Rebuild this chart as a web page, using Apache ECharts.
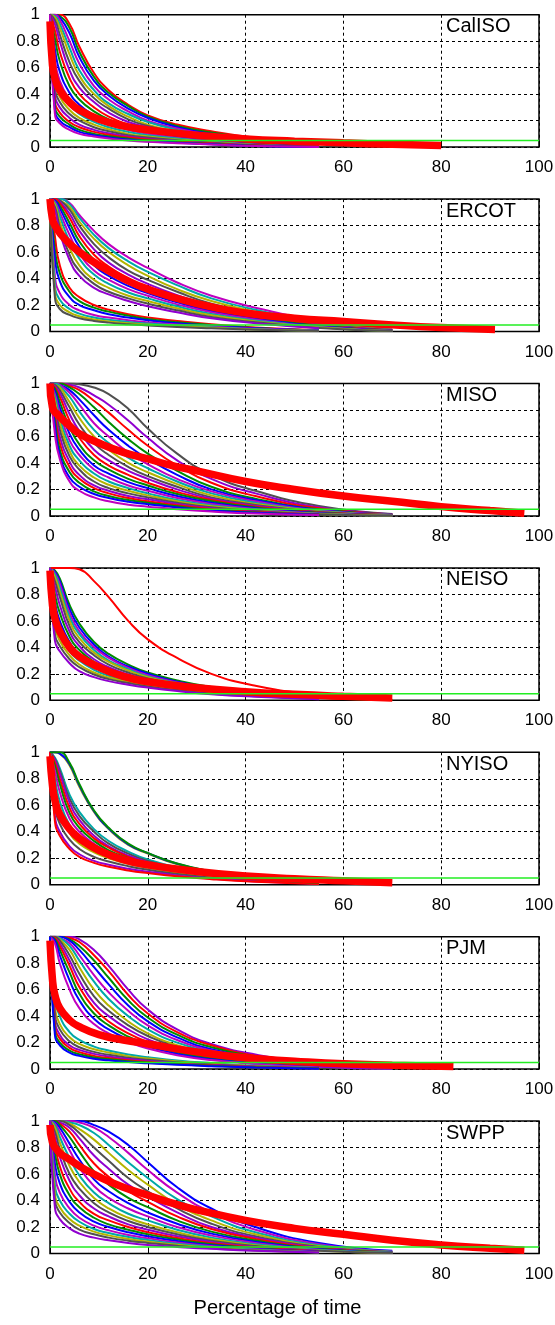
<!DOCTYPE html>
<html>
<head>
<meta charset="utf-8">
<script src="https://cdn.jsdelivr.net/npm/echarts@6/dist/echarts.min.js"></script>
<style>
  html, body { margin: 0; padding: 0; background: #fff; }
  #chart { width: 555px; height: 1325px; }
</style>
</head>
<body>
<div id="chart"></div>
<script>
// percentage of time at which every thin curve is sampled
var pctGrid = [0, 1, 2, 4, 6, 9, 12, 16, 20, 26, 33, 42, 55, 70];

var panelNames = ["CalISO", "ERCOT", "MISO", "NEISO", "NYISO", "PJM", "SWPP"];
var thresholdY = 0.05;

// CalISO
var calisoCurves = [
  [1,1,1,0.93,0.76,0.56,0.43,0.32,0.24,0.17,0.12,0.07,0.02],
  [1,1,0.99,0.9,0.72,0.53,0.41,0.31,0.23,0.16,0.11,0.065,0.02],
  [1,1,0.98,0.86,0.68,0.5,0.39,0.29,0.22,0.15,0.1,0.06,0.015],
  [1,1,0.96,0.8,0.63,0.46,0.36,0.27,0.2,0.14,0.09,0.05,0.012],
  [1,0.99,0.93,0.75,0.58,0.43,0.33,0.25,0.19,0.13,0.085,0.045,0.01],
  [1,0.98,0.9,0.7,0.54,0.4,0.31,0.23,0.17,0.12,0.08,0.04,0.01],
  [1,0.96,0.85,0.64,0.5,0.37,0.29,0.21,0.16,0.11,0.07,0.035,0.008],
  [1,0.93,0.8,0.58,0.45,0.34,0.26,0.19,0.15,0.1,0.065,0.03,0.006],
  [1,0.88,0.72,0.52,0.4,0.3,0.23,0.17,0.13,0.09,0.06,0.03,0.005],
  [1,0.82,0.65,0.46,0.36,0.27,0.21,0.16,0.12,0.085,0.055,0.025,0.005],
  [1,0.74,0.57,0.41,0.32,0.24,0.19,0.14,0.11,0.08,0.05,0.022,0.004],
  [1,0.66,0.5,0.36,0.28,0.21,0.17,0.13,0.1,0.07,0.045,0.02,0.003],
  [1,0.58,0.44,0.32,0.25,0.19,0.15,0.115,0.09,0.065,0.04,0.018,0.003],
  [1,0.5,0.38,0.28,0.22,0.17,0.135,0.1,0.08,0.058,0.036,0.016,0.002],
  [1,0.45,0.34,0.25,0.2,0.15,0.12,0.09,0.072,0.052,0.033,0.015,0.002],
  [1,0.4,0.3,0.22,0.17,0.13,0.105,0.08,0.064,0.047,0.03,0.013,0.002],
  [1,0.35,0.26,0.19,0.15,0.115,0.093,0.072,0.057,0.042,0.027,0.012,0.002],
  [1,0.31,0.23,0.17,0.13,0.1,0.082,0.064,0.051,0.037,0.024,0.01,0.001],
  [1,0.28,0.2,0.15,0.115,0.09,0.073,0.057,0.045,0.033,0.021,0.009,0.001],
  [1,0.25,0.18,0.13,0.1,0.08,0.065,0.05,0.04,0.03,0.02,0.008,0.001]
];
var calisoMeanX = [0,0.5,1,2,4,6,10,15,20,30,40,50,60,70,80];
var calisoMeanY = [0.95,0.62,0.52,0.43,0.34,0.28,0.21,0.16,0.13,0.09,0.062,0.045,0.032,0.021,0.012];

// ERCOT
var ercotCurves = [
  [1,1,1,0.97,0.88,0.76,0.66,0.56,0.48,0.37,0.27,0.18,0.08,0.015],
  [1,1,1,0.96,0.86,0.73,0.63,0.53,0.45,0.35,0.25,0.165,0.072,0.013],
  [1,1,0.99,0.94,0.83,0.7,0.6,0.5,0.42,0.32,0.23,0.15,0.065,0.011],
  [1,1,0.99,0.92,0.8,0.66,0.56,0.46,0.39,0.3,0.21,0.14,0.058,0.01],
  [1,1,0.98,0.89,0.76,0.62,0.52,0.43,0.36,0.275,0.195,0.125,0.052,0.009],
  [1,1,0.97,0.86,0.72,0.58,0.49,0.4,0.33,0.25,0.18,0.115,0.047,0.008],
  [1,0.99,0.95,0.82,0.68,0.54,0.45,0.37,0.31,0.235,0.165,0.105,0.043,0.007],
  [1,0.99,0.93,0.78,0.64,0.5,0.42,0.345,0.29,0.22,0.155,0.097,0.04,0.006],
  [1,0.98,0.9,0.73,0.59,0.46,0.39,0.32,0.27,0.205,0.145,0.09,0.036,0.005],
  [1,0.97,0.87,0.68,0.55,0.43,0.36,0.295,0.25,0.19,0.133,0.083,0.033,0.004],
  [1,0.96,0.83,0.63,0.5,0.39,0.33,0.27,0.23,0.175,0.122,0.076,0.03,0.003],
  [1,0.94,0.79,0.58,0.46,0.36,0.3,0.25,0.21,0.16,0.11,0.07,0.027,0.003],
  [1,0.92,0.75,0.54,0.42,0.33,0.28,0.23,0.19,0.145,0.1,0.063,0.024],
  [1,0.72,0.5,0.33,0.26,0.2,0.165,0.13,0.105,0.08,0.055,0.03,0.01],
  [1,0.62,0.44,0.3,0.23,0.18,0.15,0.12,0.095,0.07,0.05,0.027,0.008],
  [1,0.55,0.38,0.26,0.2,0.16,0.13,0.105,0.085,0.062,0.044,0.024,0.007],
  [1,0.42,0.29,0.2,0.16,0.125,0.105,0.085,0.07,0.052,0.037,0.02,0.006],
  [1,0.35,0.24,0.17,0.135,0.105,0.088,0.072,0.06,0.045,0.032,0.017,0.005],
  [1,0.3,0.2,0.145,0.115,0.09,0.076,0.062,0.052,0.039,0.028,0.015,0.004],
  [1,0.26,0.17,0.125,0.1,0.08,0.067,0.055,0.046,0.034,0.024,0.013,0.003]
];
var ercotMeanX = [0,0.5,1,3,6,10,15,20,30,40,50,60,70,80,91];
var ercotMeanY = [1,0.85,0.8,0.7,0.6,0.5,0.4,0.32,0.21,0.14,0.1,0.075,0.05,0.03,0.015];

// MISO
var misoCurves = [
  [1,1,1,1,0.995,0.97,0.92,0.81,0.66,0.47,0.31,0.19,0.075,0.015],
  [1,1,1,0.99,0.97,0.91,0.84,0.72,0.59,0.42,0.28,0.17,0.065,0.013],
  [1,1,1,0.98,0.95,0.87,0.78,0.65,0.53,0.38,0.25,0.15,0.057,0.011],
  [1,1,1,0.97,0.92,0.82,0.71,0.58,0.47,0.34,0.22,0.13,0.05,0.01],
  [1,1,0.99,0.95,0.88,0.76,0.65,0.53,0.43,0.31,0.2,0.12,0.045,0.009],
  [1,1,0.99,0.93,0.84,0.7,0.6,0.48,0.39,0.28,0.185,0.11,0.04,0.008],
  [1,1,0.98,0.9,0.79,0.65,0.55,0.44,0.36,0.26,0.17,0.1,0.037,0.007],
  [1,0.99,0.97,0.86,0.74,0.6,0.5,0.4,0.33,0.24,0.155,0.09,0.034,0.006],
  [1,0.99,0.95,0.82,0.69,0.55,0.46,0.37,0.3,0.22,0.14,0.083,0.03,0.005],
  [1,0.98,0.93,0.77,0.64,0.5,0.42,0.34,0.28,0.2,0.13,0.076,0.028,0.005],
  [1,0.97,0.9,0.72,0.59,0.46,0.38,0.31,0.25,0.18,0.12,0.07,0.025,0.004],
  [1,0.96,0.86,0.67,0.54,0.42,0.35,0.28,0.23,0.165,0.11,0.064,0.023,0.004],
  [1,0.94,0.82,0.62,0.5,0.38,0.32,0.255,0.21,0.15,0.1,0.058,0.02,0.003],
  [1,0.92,0.78,0.57,0.46,0.35,0.29,0.23,0.19,0.135,0.09,0.052,0.018,0.003],
  [1,0.9,0.74,0.53,0.42,0.32,0.26,0.21,0.17,0.12,0.08,0.046,0.016,0.002],
  [1,0.87,0.7,0.49,0.38,0.29,0.235,0.19,0.155,0.11,0.072,0.041,0.014,0.002],
  [1,0.84,0.65,0.45,0.35,0.26,0.21,0.17,0.14,0.1,0.065,0.037,0.012,0.002],
  [1,0.8,0.6,0.41,0.31,0.23,0.19,0.15,0.125,0.09,0.058,0.033,0.011],
  [1,0.76,0.55,0.37,0.28,0.21,0.17,0.135,0.11,0.08,0.052,0.029,0.01],
  [1,0.72,0.5,0.33,0.25,0.185,0.15,0.12,0.1,0.072,0.046,0.026,0.009],
  [1,0.68,0.46,0.29,0.22,0.165,0.135,0.107,0.088,0.064,0.041,0.023,0.008],
  [1,0.62,0.43,0.26,0.19,0.14,0.11,0.085,0.07,0.05,0.033,0.018,0.006]
];
var misoMeanX = [0,0.5,2,4,6,10,15,20,25,30,40,50,60,70,80,90,97];
var misoMeanY = [1,0.82,0.75,0.68,0.62,0.55,0.48,0.43,0.38,0.34,0.26,0.2,0.15,0.11,0.07,0.04,0.02];

// NEISO (the eighth curve is the lone slow outlier)
var neisoCurves = [
  [1,0.98,0.92,0.72,0.58,0.44,0.35,0.27,0.21,0.15,0.1,0.06,0.02,0.003],
  [1,0.97,0.9,0.69,0.55,0.42,0.33,0.255,0.2,0.14,0.095,0.055,0.018],
  [1,0.96,0.88,0.66,0.52,0.4,0.32,0.245,0.19,0.135,0.09,0.052,0.017],
  [1,0.95,0.85,0.63,0.5,0.38,0.3,0.235,0.18,0.13,0.085,0.05,0.016],
  [1,0.93,0.82,0.6,0.47,0.36,0.29,0.225,0.175,0.125,0.082,0.047,0.015],
  [1,0.9,0.78,0.56,0.44,0.34,0.27,0.21,0.165,0.12,0.078,0.045,0.014],
  [1,0.86,0.72,0.52,0.41,0.31,0.25,0.195,0.155,0.112,0.074,0.042,0.013],
  [1,1,1,1,0.99,0.9,0.78,0.6,0.46,0.32,0.2,0.11,0.04,0.005],
  [1,0.8,0.66,0.48,0.38,0.29,0.235,0.185,0.145,0.105,0.07,0.04,0.012],
  [1,0.74,0.6,0.44,0.35,0.27,0.22,0.17,0.135,0.1,0.066,0.038,0.012],
  [1,0.68,0.55,0.4,0.32,0.25,0.2,0.16,0.127,0.094,0.062,0.036,0.011],
  [1,0.62,0.5,0.37,0.3,0.23,0.186,0.15,0.12,0.088,0.058,0.034,0.01],
  [1,0.56,0.45,0.34,0.27,0.21,0.172,0.14,0.112,0.082,0.054,0.032,0.01],
  [1,0.5,0.41,0.31,0.25,0.195,0.16,0.13,0.105,0.077,0.05,0.03,0.009],
  [1,0.45,0.37,0.28,0.22,0.175,0.145,0.118,0.096,0.07,0.046,0.027,0.008]
];
var neisoMeanX = [0,0.5,1,2,4,6,10,15,20,30,40,50,60,70];
var neisoMeanY = [0.98,0.72,0.62,0.52,0.4,0.33,0.25,0.18,0.14,0.095,0.065,0.045,0.03,0.018];

// NYISO (curves 2, 7 and 14 are the three slow outliers)
var nyisoCurves = [
  [1,0.96,0.88,0.68,0.55,0.42,0.33,0.25,0.19,0.13,0.085,0.045,0.012],
  [1,1,0.99,0.9,0.74,0.55,0.42,0.3,0.235,0.155,0.098,0.048,0.011],
  [1,0.95,0.86,0.65,0.52,0.4,0.31,0.235,0.18,0.125,0.08,0.043,0.011],
  [1,0.94,0.84,0.62,0.49,0.37,0.29,0.22,0.17,0.12,0.077,0.041,0.011],
  [1,0.92,0.8,0.58,0.46,0.35,0.28,0.21,0.165,0.115,0.074,0.04,0.01],
  [1,0.9,0.76,0.54,0.43,0.33,0.26,0.2,0.157,0.11,0.071,0.038,0.01],
  [1,1,0.99,0.91,0.75,0.555,0.425,0.305,0.238,0.158,0.099,0.049,0.012],
  [1,0.86,0.7,0.5,0.4,0.31,0.245,0.19,0.15,0.105,0.068,0.036,0.01],
  [1,0.8,0.63,0.45,0.36,0.28,0.225,0.175,0.14,0.098,0.064,0.034,0.009],
  [1,0.7,0.54,0.39,0.31,0.245,0.2,0.158,0.127,0.09,0.059,0.032,0.009],
  [1,0.6,0.46,0.34,0.27,0.21,0.175,0.14,0.113,0.08,0.053,0.029,0.008],
  [1,0.52,0.4,0.29,0.23,0.18,0.15,0.12,0.098,0.07,0.046,0.025,0.007],
  [1,0.48,0.37,0.27,0.21,0.165,0.135,0.108,0.088,0.063,0.042,0.023,0.006],
  [1,1,1,0.92,0.76,0.56,0.43,0.31,0.24,0.16,0.1,0.05,0.012]
];
var nyisoMeanX = [0,0.5,1,2,4,6,10,15,20,30,40,50,60,70];
var nyisoMeanY = [0.97,0.75,0.64,0.53,0.42,0.35,0.26,0.19,0.15,0.1,0.065,0.045,0.03,0.015];

// PJM
var pjmCurves = [
  [1,1,1,1,0.98,0.9,0.78,0.6,0.45,0.3,0.19,0.11,0.04,0.008],
  [1,1,1,0.99,0.96,0.86,0.74,0.56,0.42,0.28,0.18,0.1,0.035,0.007],
  [1,1,1,0.98,0.93,0.82,0.69,0.52,0.39,0.26,0.165,0.095,0.032,0.006],
  [1,1,1,0.97,0.9,0.77,0.64,0.48,0.36,0.24,0.15,0.088,0.03,0.005],
  [1,1,0.99,0.95,0.86,0.71,0.58,0.44,0.33,0.22,0.14,0.08,0.027,0.005],
  [1,1,0.99,0.93,0.82,0.66,0.53,0.4,0.3,0.2,0.128,0.074,0.025,0.004],
  [1,1,0.98,0.9,0.77,0.6,0.48,0.36,0.27,0.18,0.115,0.067,0.022,0.004],
  [1,1,0.97,0.86,0.72,0.55,0.44,0.33,0.25,0.165,0.105,0.06,0.02,0.003],
  [1,0.99,0.95,0.82,0.67,0.5,0.4,0.3,0.225,0.15,0.096,0.055,0.018,0.003],
  [1,0.99,0.93,0.78,0.62,0.46,0.36,0.27,0.205,0.137,0.088,0.05,0.016],
  [1,0.98,0.9,0.73,0.57,0.42,0.33,0.245,0.185,0.125,0.08,0.046,0.015],
  [1,0.97,0.86,0.67,0.52,0.38,0.3,0.225,0.17,0.115,0.074,0.042,0.014],
  [1,0.95,0.8,0.6,0.46,0.34,0.27,0.205,0.155,0.105,0.068,0.039,0.013],
  [1,0.55,0.4,0.28,0.22,0.17,0.14,0.11,0.09,0.065,0.045,0.025,0.008],
  [1,0.48,0.34,0.24,0.19,0.15,0.125,0.098,0.08,0.058,0.04,0.022,0.007],
  [1,0.42,0.3,0.21,0.165,0.13,0.108,0.086,0.07,0.051,0.035,0.02,0.006],
  [1,0.37,0.26,0.18,0.145,0.115,0.095,0.076,0.062,0.045,0.031,0.018,0.005],
  [1,0.33,0.23,0.16,0.128,0.1,0.084,0.067,0.055,0.04,0.028,0.016,0.004],
  [1,0.29,0.2,0.14,0.112,0.088,0.074,0.06,0.049,0.036,0.025,0.014,0.004],
  [1,0.26,0.18,0.125,0.1,0.078,0.066,0.053,0.044,0.032,0.022,0.012,0.003]
];
var pjmMeanX = [0,0.5,1,2,4,6,10,15,20,30,40,50,60,70,82.5];
var pjmMeanY = [0.97,0.68,0.56,0.46,0.37,0.32,0.26,0.22,0.19,0.13,0.085,0.06,0.04,0.03,0.02];

// SWPP
var swppCurves = [
  [1,1,1,1,1,0.97,0.92,0.82,0.69,0.5,0.34,0.2,0.08,0.02],
  [1,1,1,1,0.99,0.95,0.88,0.76,0.63,0.46,0.31,0.18,0.07,0.016],
  [1,1,1,0.99,0.97,0.91,0.82,0.69,0.57,0.41,0.28,0.16,0.062,0.014],
  [1,1,1,0.98,0.94,0.86,0.76,0.63,0.52,0.37,0.25,0.145,0.055,0.012],
  [1,1,1,0.97,0.91,0.8,0.7,0.57,0.47,0.34,0.225,0.13,0.05,0.01],
  [1,1,0.99,0.95,0.87,0.74,0.64,0.52,0.43,0.31,0.2,0.12,0.045,0.009],
  [1,1,0.98,0.92,0.82,0.68,0.58,0.47,0.39,0.28,0.185,0.11,0.04,0.008],
  [1,1,0.97,0.88,0.77,0.62,0.52,0.42,0.35,0.25,0.165,0.098,0.036,0.007],
  [1,0.99,0.95,0.83,0.71,0.56,0.47,0.38,0.31,0.225,0.15,0.088,0.032,0.006],
  [1,0.98,0.92,0.78,0.65,0.51,0.42,0.34,0.28,0.2,0.135,0.08,0.029,0.005],
  [1,0.97,0.88,0.72,0.59,0.46,0.38,0.3,0.25,0.18,0.12,0.07,0.026,0.005],
  [1,0.95,0.84,0.66,0.54,0.42,0.34,0.27,0.22,0.16,0.107,0.063,0.023,0.004],
  [1,0.92,0.79,0.6,0.49,0.38,0.31,0.245,0.2,0.145,0.096,0.056,0.02,0.004],
  [1,0.88,0.73,0.55,0.44,0.34,0.28,0.22,0.18,0.13,0.087,0.05,0.018],
  [1,0.82,0.66,0.49,0.39,0.3,0.25,0.2,0.16,0.117,0.078,0.045,0.016],
  [1,0.76,0.6,0.44,0.35,0.27,0.22,0.18,0.145,0.105,0.07,0.04,0.014],
  [1,0.68,0.53,0.39,0.31,0.24,0.2,0.16,0.13,0.094,0.063,0.036,0.013],
  [1,0.6,0.46,0.34,0.27,0.21,0.175,0.14,0.115,0.083,0.056,0.032,0.011],
  [1,0.52,0.4,0.3,0.24,0.185,0.155,0.125,0.102,0.074,0.05,0.029,0.01],
  [1,0.45,0.35,0.26,0.21,0.165,0.137,0.11,0.09,0.066,0.044,0.025,0.009],
  [1,0.4,0.31,0.23,0.18,0.145,0.12,0.097,0.08,0.058,0.039,0.022,0.008],
  [1,0.35,0.26,0.19,0.15,0.12,0.1,0.08,0.065,0.05,0.035,0.02,0.007]
];
var swppMeanX = [0,0.5,2,4,6,10,15,20,25,30,40,50,60,70,80,90,97];
var swppMeanY = [0.97,0.84,0.76,0.71,0.66,0.58,0.5,0.44,0.38,0.33,0.25,0.19,0.145,0.1,0.065,0.04,0.025];

var panelCurves = [calisoCurves, ercotCurves, misoCurves, neisoCurves, nyisoCurves, pjmCurves, swppCurves];
var panelMeanX = [calisoMeanX, ercotMeanX, misoMeanX, neisoMeanX, nyisoMeanX, pjmMeanX, swppMeanX];
var panelMeanY = [calisoMeanY, ercotMeanY, misoMeanY, neisoMeanY, nyisoMeanY, pjmMeanY, swppMeanY];

var lineColors = ['#ff0000','#008c00','#0000ff','#c000c0','#00a8a8','#b4b400','#505050','#9000d0'];
var FONT = 'Liberation Sans, Arial, Helvetica, sans-serif';

var plotLeft = 50, plotWidth = 489, plotHeight = 132.4;
var firstTop = 14.7, panelStep = 184.4;

var grids = [], xAxes = [], yAxes = [], titles = [], series = [];

function zip(xs, ys) {
  var out = [];
  for (var k = 0; k < ys.length; k++) out.push([xs[k], ys[k]]);
  return out;
}

for (var p = 0; p < panelNames.length; p++) {
  var panelTop = firstTop + p * panelStep;
  grids.push({
    left: plotLeft, top: panelTop, width: plotWidth, height: plotHeight,
    show: true, borderColor: '#000', borderWidth: 1.5, backgroundColor: 'transparent',
    outerBoundsMode: 'none'
  });
  xAxes.push({
    type: 'value', gridIndex: p, min: 0, max: 100, interval: 20,
    axisLine: { show: false },
    axisTick: { show: true, inside: true, length: 5, lineStyle: { color: '#000' } },
    axisLabel: { color: '#000', fontSize: 17, fontFamily: FONT, margin: 12 },
    splitLine: { show: true, lineStyle: { color: '#000', width: 1, type: [3, 3] } }
  });
  yAxes.push({
    type: 'value', gridIndex: p, min: 0, max: 1, interval: 0.2,
    axisLine: { show: false },
    axisTick: { show: true, inside: true, length: 5, lineStyle: { color: '#000' } },
    axisLabel: { color: '#000', fontSize: 17, fontFamily: FONT, margin: 10 },
    splitLine: { show: true, lineStyle: { color: '#000', width: 1, type: [3, 3] } }
  });
  titles.push({
    text: panelNames[p], left: 446, top: panelTop + 2, padding: 0,
    textStyle: { fontSize: 20, fontWeight: 'normal', color: '#000', fontFamily: FONT }
  });

  var curves = panelCurves[p];
  for (var j = 0; j < curves.length; j++) {
    series.push({
      type: 'line', xAxisIndex: p, yAxisIndex: p,
      data: zip(pctGrid, curves[j]),
      showSymbol: false, smooth: 0.5, silent: true,
      lineStyle: { width: 2, color: lineColors[(j + p * 3) % lineColors.length] }
    });
  }
  // thick red mean curve
  series.push({
    type: 'line', xAxisIndex: p, yAxisIndex: p,
    data: zip(panelMeanX[p], panelMeanY[p]),
    showSymbol: false, smooth: 0.5, silent: true,
    lineStyle: { width: 7.5, color: '#ff0000', cap: 'butt' }
  });
  // green threshold line
  series.push({
    type: 'line', xAxisIndex: p, yAxisIndex: p,
    data: [[0, thresholdY], [100, thresholdY]],
    showSymbol: false, silent: true,
    lineStyle: { width: 1.5, color: '#22ee22' }
  });
}

var chart = echarts.init(document.getElementById('chart'), null, { renderer: 'canvas' });
chart.setOption({
  animation: false,
  backgroundColor: '#fff',
  title: titles,
  grid: grids,
  xAxis: xAxes,
  yAxis: yAxes,
  series: series,
  graphic: [{
    type: 'text', left: 'center', top: 1298,
    style: { text: 'Percentage of time', fontSize: 20, fontFamily: FONT, fill: '#000' }
  }]
});
</script>
</body>
</html>
